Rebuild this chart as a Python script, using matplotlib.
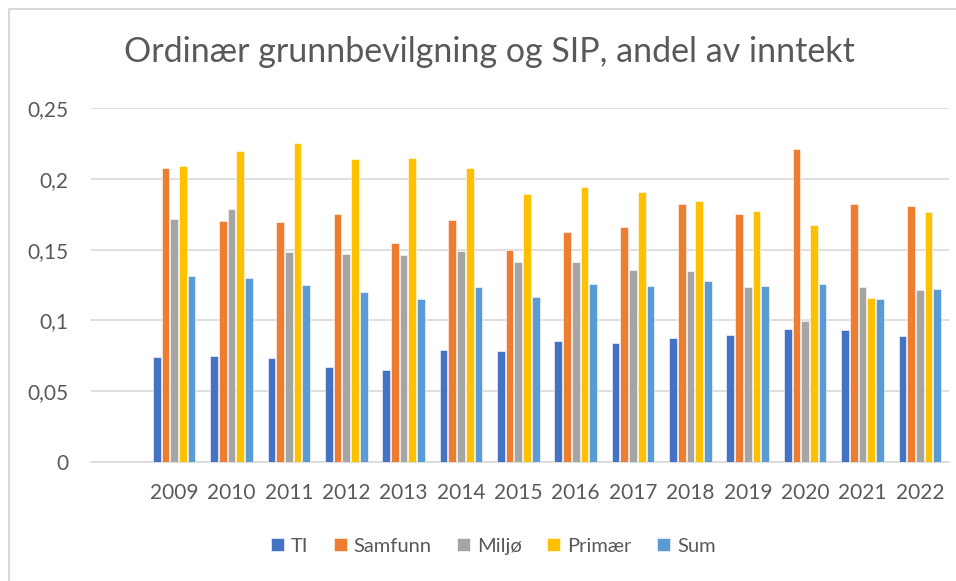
import matplotlib.pyplot as plt
import numpy as np
from matplotlib.patches import Rectangle
from matplotlib.ticker import FuncFormatter

years = ["2009", "2010", "2011", "2012", "2013", "2014", "2015",
         "2016", "2017", "2018", "2019", "2020", "2021", "2022"]
ti = [0.0744, 0.0751, 0.0732, 0.0671, 0.0650, 0.0791, 0.0782,
      0.0852, 0.0840, 0.0878, 0.0899, 0.0937, 0.0930, 0.0887]
samfunn = [0.2076, 0.1700, 0.1693, 0.1751, 0.1547, 0.1711, 0.1497,
           0.1627, 0.1662, 0.1824, 0.1751, 0.2210, 0.1822, 0.1810]
miljo = [0.1716, 0.1790, 0.1485, 0.1471, 0.1464, 0.1488, 0.1412,
         0.1415, 0.1356, 0.1349, 0.1236, 0.0993, 0.1238, 0.1217]
primaer = [0.2090, 0.2196, 0.2250, 0.2142, 0.2147, 0.2076, 0.1895,
           0.1942, 0.1909, 0.1846, 0.1775, 0.1674, 0.1161, 0.1766]
sum_ = [0.1316, 0.1302, 0.1252, 0.1200, 0.1151, 0.1238, 0.1165,
        0.1255, 0.1241, 0.1278, 0.1241, 0.1257, 0.1149, 0.1222]

series = [("TI", ti, "#4472C4"), ("Samfunn", samfunn, "#ED7D31"),
          ("Miljø", miljo, "#A5A5A5"), ("Primær", primaer, "#FFC000"),
          ("Sum", sum_, "#5B9BD5")]

plt.rcParams['font.family'] = ['Lato', 'DejaVu Sans']
txt = "#595959"

fig = plt.figure(figsize=(9.56, 5.81), dpi=100)
ax = fig.add_axes([0.0952, 0.205, 0.897, 0.609])

x = np.arange(len(years))
pitch = 0.152
for i, (name, vals, col) in enumerate(series):
    ax.bar(x + (i - 2) * pitch, vals, width=0.135, color=col, label=name,
           edgecolor="white", linewidth=0.4, zorder=3)

# empty category slot to the left, as in the original
ax.set_xlim(-1.45, len(years) - 0.5)
ax.set_ylim(0, 0.25)
ax.set_yticks(np.arange(0, 0.2501, 0.05))
ax.yaxis.set_major_formatter(FuncFormatter(
    lambda v, p: "0" if v == 0 else f"{v:.2f}".rstrip("0").replace(".", ",")))
ax.set_xticks(x)
ax.set_xticklabels(years)
ax.grid(axis="y", color="#D9D9D9", linewidth=1.2, zorder=0)
for s in ["top", "right", "left"]:
    ax.spines[s].set_visible(False)
ax.spines["bottom"].set_color("#D9D9D9")
ax.spines["bottom"].set_linewidth(1.2)
ax.tick_params(axis="both", length=0, labelsize=15, colors=txt)
ax.tick_params(axis="x", pad=15)
ax.tick_params(axis="y", pad=16)

fig.text(0.512, 0.91, "Ordinær grunnbevilgning og SIP, andel av inntekt",
         ha="center", va="center", fontsize=24.5, color=txt)

leg = fig.legend(loc="center", bbox_to_anchor=(0.516, 0.06), ncol=5,
                 frameon=False, fontsize=14.5, handlelength=0.65,
                 handleheight=0.65, handletextpad=0.35, columnspacing=1.25)
for t in leg.get_texts():
    t.set_color(txt)

# chart frame: only its left and top edges fall inside the image
fig.patches.append(Rectangle((9 / 956, -0.5), 2, 1.5 - 8.5 / 581,
                             transform=fig.transFigure, fill=False,
                             edgecolor="#D9D9D9", linewidth=1.5))

plt.savefig("out.png", dpi=100)
